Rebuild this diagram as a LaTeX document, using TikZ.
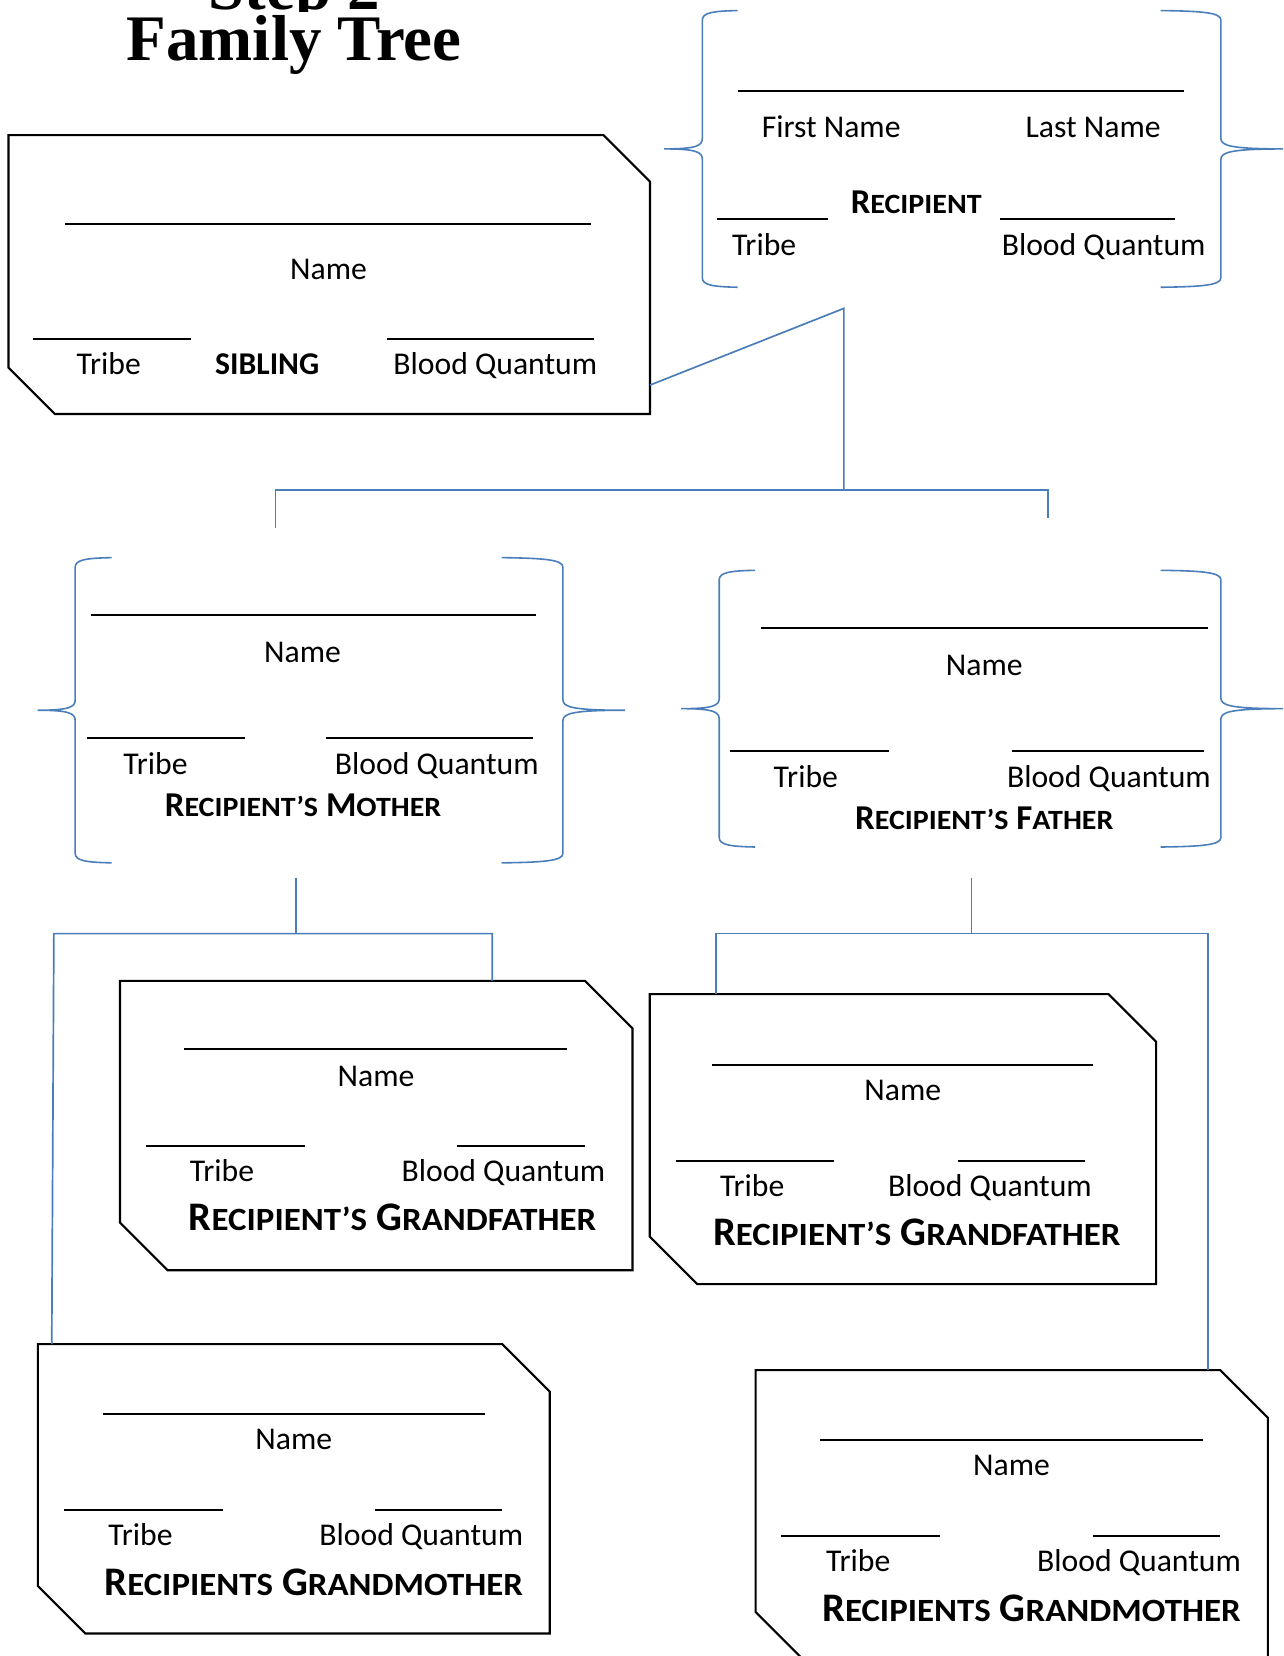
\documentclass[tikz,border=0pt]{standalone}
\usepackage{fontspec}
\setmainfont{Carlito}
\newfontfamily\titlefont{Liberation Serif}
\usepackage{graphicx}
\definecolor{conblue}{RGB}{74,126,187}
\newcommand\smc[1]{\scalebox{0.86}[0.8]{#1}}
\newcommand\fsz[1]{\fontsize{#1pt}{#1pt}\selectfont}
\newcommand\chamfer[2]{\draw[card] (#1.north west) -- ([xshift=-#2]#1.north east) -- ([yshift=-#2]#1.north east) -- (#1.south east) -- ([xshift=#2]#1.south west) -- ([yshift=#2]#1.south west) -- cycle;}
\newcommand\bracepath[6]{\draw[brace] (#2,#4) .. controls ({#1+0.3*(#2-#1)},{#4+0.5}) and (#1,{#4+2}) .. (#1,{#4+9}) -- (#1,{#5-10}) .. controls (#1,{#5-3}) and ({#1+0.15*(#3-#1)},#5) .. (#3,#5) .. controls ({#1+0.15*(#3-#1)},#5) and (#1,{#5+3}) .. (#1,{#5+10}) -- (#1,{#6-9}) .. controls (#1,{#6-2}) and ({#1+0.3*(#2-#1)},{#6-0.5}) .. (#2,#6);}
\tikzset{
  txt/.style={anchor=base, inner sep=0pt, font=\fsz{30}},
  sibl/.style={anchor=base, inner sep=0pt, font=\fsz{30}\bfseries},
  lbl/.style={anchor=base, inner sep=0pt, font=\fsz{33}\bfseries},
  glbl/.style={anchor=base, inner sep=0pt, font=\fsz{38.4}\bfseries},
  ttl/.style={anchor=base, inner sep=0pt, font=\titlefont\bfseries\fsz{61.5}},
  blank/.style={line width=1.9pt, black},
  card/.style={line width=2pt, black, line join=miter},
  conn/.style={line width=1.6pt, conblue},
  brace/.style={line width=1.5pt, conblue},
  frame/.style={rectangle, inner sep=0pt, outer sep=0pt}
}
\begin{document}
\begin{tikzpicture}[x=1pt,y=-1pt]
\clip (0,0) rectangle (1215,1568);
\fill[white] (0,0) rectangle (1215,1568);

% ---------- title ----------
\begin{scope}
\clip (0,0) rectangle (1215,11);
\node[ttl] (step) at (278.5,9) {Step 2};
\end{scope}
\node[ttl] (fam) at (278.5,57) {Family Tree};

% ---------- frames ----------
\node[frame, minimum width=607.5pt, minimum height=264pt] (sib) at (311.75,260) {};
\chamfer{sib}{44pt}
\node[frame, minimum width=491pt, minimum height=262pt] (rec) at (910.5,141) {};
\node[frame, minimum width=462pt, minimum height=289pt] (mom) at (302,672.5) {};
\node[frame, minimum width=475pt, minimum height=262pt] (dad) at (918.5,671) {};
\node[frame, minimum width=485.3pt, minimum height=274pt] (gf1) at (356.25,1065.7) {};
\chamfer{gf1}{45pt}
\node[frame, minimum width=479.5pt, minimum height=274.6pt] (gf2) at (854.95,1078.6) {};
\chamfer{gf2}{45pt}
\node[frame, minimum width=484.6pt, minimum height=274pt] (gm1) at (278.2,1409.7) {};
\chamfer{gm1}{45pt}
\node[frame, minimum width=485pt, minimum height=274pt] (gm2) at (958,1434.3) {};
\chamfer{gm2}{45pt}

% ---------- braces ----------
\bracepath{665}{698.5}{628.8}{10}{141}{272}
\bracepath{1156}{1099}{1217}{10}{141}{272}
\bracepath{71.2}{105.6}{35.7}{528}{672.5}{817}
\bracepath{533}{475}{592}{528}{672.5}{817}
\bracepath{681}{715}{645}{540}{671}{802}
\bracepath{1156}{1099}{1217}{540}{671}{802}

% ---------- connectors ----------
\coordinate (jsib) at (799,292);
\coordinate (jtop) at (799,464);
\coordinate (jleft) at (261,464);
\coordinate (jright) at (992,464);
\coordinate (momtick) at (261,500);
\coordinate (dadtick) at (992,490);
\draw[conn] ([yshift=-104.6pt]sib.east) -- (jsib) -- (jtop);
\draw[conn] (momtick) -- (jleft) -- (jright) -- (dadtick);

\coordinate (momdrop) at (280,831);
\coordinate (mombar) at (280,884);
\coordinate (mombarL) at (51,884);
\coordinate (mombarR) at (466,884);
\draw[conn] (momdrop) -- (mombar);
\draw[conn] ([xshift=13.1pt]gm1.north west) -- (mombarL) -- (mombarR) -- ([xshift=352.4pt]gf1.north west);

\coordinate (daddrop) at (920,831);
\coordinate (dadbar) at (920,884);
\coordinate (dadbarL) at (678,884);
\coordinate (dadbarR) at (1143.5,884);
\draw[conn] (daddrop) -- (dadbar);
\draw[conn] ([xshift=62.8pt]gf2.north west) -- (dadbarL) -- (dadbarR) -- ([xshift=428pt]gm2.north west);

% ---------- sibling ----------
\draw[blank] (62,212) -- (560,212);
\draw[blank] (31,321) -- (181,321);
\draw[blank] (366,321) -- (562,321);
\node[txt] (sibname) at (311,265) {Name};
\node[txt] (sibtribe) at (103,355) {Tribe};
\node[sibl] (siblbl) at (253,355) {SIBLING};
\node[txt] (sibbq) at (469,355) {Blood Quantum};

% ---------- recipient ----------
\draw[blank] (699,86.5) -- (1121,86.5);
\draw[blank] (679,207) -- (784,207);
\draw[blank] (947,207) -- (1112.5,207);
\node[txt] (recfirst) at (787,130) {First Name};
\node[txt] (reclast) at (1035,130) {Last Name};
\node[lbl] (reclbl) at (867.5,202) {R\smc{ECIPIENT}};
\node[txt] (rectribe) at (723.5,241.5) {Tribe};
\node[txt] (recbq) at (1045,241.5) {Blood Quantum};

% ---------- mother ----------
\draw[blank] (86.4,582.7) -- (507.6,582.7);
\draw[blank] (82,699) -- (232,699);
\draw[blank] (308.5,699) -- (504.3,699);
\node[txt] (momname) at (286.5,627.5) {Name};
\node[txt] (momtribe) at (147.3,733.3) {Tribe};
\node[txt] (mombq) at (413.6,733.3) {Blood Quantum};
\node[lbl] (momlbl) at (287,773.4) {R\smc{ECIPIENT’S} M\smc{OTHER}};

% ---------- father ----------
\draw[blank] (721,594.7) -- (1144,594.7);
\draw[blank] (691,711) -- (842,711);
\draw[blank] (958,711) -- (1140,711);
\node[txt] (dadname) at (932,639.5) {Name};
\node[txt] (dadtribe) at (763,745.3) {Tribe};
\node[txt] (dadbq) at (1050,745.3) {Blood Quantum};
\node[lbl] (dadlbl) at (932,785.4) {R\smc{ECIPIENT’S} F\smc{ATHER}};

% ---------- grandfather 1 ----------
\draw[blank] (174.6,993.7) -- (536.6,993.7);
\draw[blank] (137.9,1085.2) -- (288.4,1085.2);
\draw[blank] (432.8,1085.2) -- (553.7,1085.2);
\node[txt] (gf1name) at (356,1028.4) {Name};
\node[txt] (gf1tribe) at (210.2,1119) {Tribe};
\node[txt] (gf1bq) at (476.7,1119) {Blood Quantum};
\node[glbl] (gf1lbl) at (371.7,1164.8) {R\smc{ECIPIENT’S} G\smc{RANDFATHER}};

% ---------- grandfather 2 ----------
\draw[blank] (673.9,1008.5) -- (1035.2,1008.5);
\draw[blank] (640,1099.4) -- (790,1099.4);
\draw[blank] (907,1099.4) -- (1027,1099.4);
\node[txt] (gf2name) at (854.8,1042.3) {Name};
\node[txt] (gf2tribe) at (712.3,1133.2) {Tribe};
\node[txt] (gf2bq) at (937.3,1133.2) {Blood Quantum};
\node[glbl] (gf2lbl) at (868,1179.6) {R\smc{ECIPIENT’S} G\smc{RANDFATHER}};

% ---------- grandmother 1 ----------
\draw[blank] (97.2,1338.4) -- (459.2,1338.4);
\draw[blank] (60.3,1430) -- (210.7,1430);
\draw[blank] (355.5,1430) -- (475.5,1430);
\node[txt] (gm1name) at (278.2,1372.5) {Name};
\node[txt] (gm1tribe) at (133,1463) {Tribe};
\node[txt] (gm1bq) at (398.9,1463) {Blood Quantum};
\node[glbl] (gm1lbl) at (297,1510.4) {R\smc{ECIPIENTS} G\smc{RANDMOTHER}};

% ---------- grandmother 2 ----------
\draw[blank] (776.8,1363) -- (1138.8,1363);
\draw[blank] (739.9,1454.6) -- (890.3,1454.6);
\draw[blank] (1035.1,1454.6) -- (1155.1,1454.6);
\node[txt] (gm2name) at (957.8,1397.1) {Name};
\node[txt] (gm2tribe) at (812.6,1487.6) {Tribe};
\node[txt] (gm2bq) at (1078.5,1487.6) {Blood Quantum};
\node[glbl] (gm2lbl) at (976.6,1535) {R\smc{ECIPIENTS} G\smc{RANDMOTHER}};
\end{tikzpicture}
\end{document}
